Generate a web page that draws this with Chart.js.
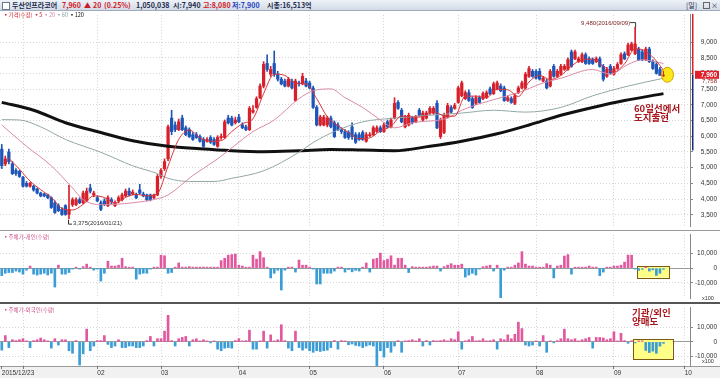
<!DOCTYPE html>
<html>
<head>
<meta charset="utf-8">
<script src="https://cdn.jsdelivr.net/npm/chart.js@4.4.1/dist/chart.umd.min.js"></script>
<style>
  body{margin:0;width:720px;height:378px;position:relative;overflow:hidden;background:#fff;font-family:"Noto Sans CJK KR","Liberation Sans",sans-serif}
  canvas{position:absolute;left:0}
  .t{position:absolute;white-space:nowrap}
  #hdr{position:absolute;left:0;top:0;width:720px;height:10px;background:linear-gradient(#eef2f8,#d3dbe7);border-bottom:1px solid #9fabbd;font-weight:bold;font-size:7px;line-height:10px;color:#1b2a4a}
  #hdr span{position:absolute;top:0}
  .red{color:#d01822}
  .blue{color:#1d3fc0}
  .note{color:#a8161c;font-weight:bold;font-size:9.5px;line-height:9px}
  .lg{font-size:5.5px;line-height:6px}
  .ax{font-size:6.5px;color:#333;font-family:"Liberation Sans",sans-serif}
</style>
</head>
<body>
<div id="hdr">
  <span style="left:2px;top:2px;width:6px;height:6px;border:1px solid #6a7890;background:#fff"></span>
  <span style="left:12px">두산인프라코어</span>
  <span class="red" style="left:62px">7,960</span>
  <span class="red" style="left:84px">▲</span>
  <span class="red" style="left:93px">20</span>
  <span class="red" style="left:104px">(0.25%)</span>
  <span style="left:136px">1,050,038</span>
  <span style="left:173px">시:7,940</span>
  <span class="red" style="left:203px">고:8,080</span>
  <span class="blue" style="left:232px">저:7,900</span>
  <span style="left:267px">시총:16,513억</span>
  <span style="left:686px;font-weight:normal">[일]</span>
  <span style="left:703px;top:2px;width:5px;height:5px;border:1px solid #666"></span>
  <span style="left:711px;font-weight:normal">×</span>
</div>

<canvas id="c1" width="720" height="219" style="top:11px"></canvas>
<div style="position:absolute;left:0;top:230px;width:720px;height:1px;background:#9a9a9a"></div>
<canvas id="c2" width="720" height="71" style="top:231px"></canvas>
<div style="position:absolute;left:0;top:302px;width:720px;height:2px;background:#555"></div>
<canvas id="c3" width="720" height="74" style="top:304px"></canvas>

<div class="t lg" style="left:3px;top:12px"><span style="color:#d01822">▪가격(수정)</span> <span style="color:#d01822">▪5</span> <span style="color:#d88aa8">▪20</span> <span style="color:#8fa4a4">▪60</span> <span style="color:#111">▪120</span></div>
<div class="t lg" style="left:3px;top:234px;color:#d0508a">▪주체가-개인(수량)</div>
<div class="t lg" style="left:3px;top:307px;color:#d0508a">▪주체가-외국인(수량)</div>
<div class="t note" style="left:634px;top:104px">60일선에서<br>도지출현</div>
<div class="t note" style="left:632px;top:308px">기관/외인<br>양매도</div>
<div class="t ax" style="left:702px;top:295px;font-size:5.5px">x100</div>
<div class="t ax" style="left:702px;top:358px;font-size:5.5px">x100</div>

<script>
// 일봉 (2015/12/23 ~ 2016/09)
const opens = [5590,5120,5500,5120,4910,4880,4690,4500,4410,4410,
 4320,4190,4160,4130,4040,3880,3790,3670,3790,3510,
 3820,3820,3980,3880,3940,4350,4130,4040,3880,3940,
 3790,3980,3790,3940,3980,4100,4250,4160,4130,4290,
 4160,4130,4130,4040,4130,4720,4970,5280,6580,6360,
 6210,6580,6270,6210,6050,6050,5990,5900,5840,5960,
 5900,5680,5960,5960,6580,6580,6430,6610,6360,6300,
 6210,6770,6920,7230,7600,8320,7980,8320,7980,7820,
 7760,7600,7760,7140,7700,7670,7760,7700,7540,6920,
 6360,6360,6360,6580,6430,6360,6210,6150,6120,6300,
 6050,6050,6120,5840,6020,6050,6150,6270,6150,6460,
 6300,6580,7080,6830,6300,6360,6580,6460,6830,6520,
 6580,6740,6740,7050,5990,6120,6610,6920,6890,7080,
 7290,7200,7390,7200,7050,7230,7200,7230,7510,7360,
 7510,7600,7540,7140,7200,7050,7390,7540,7540,7910,
 8070,8070,8070,7760,7760,7600,8230,7910,7980,8130,
 8130,8690,8470,8380,8380,8600,8470,8440,8380,8470,
 8230,7910,8230,7980,8160,8320,8630,8600,8750,8630,
 8780,8690,8440,8780,8380,8290,8130,7940];
const highs = [5740,5370,5590,5190,4970,4910,4720,4560,4530,4440,
 4350,4220,4190,4160,4070,3940,3850,3730,3820,4440,
 4040,4040,4040,4250,4350,4470,4250,4100,3940,4010,
 4100,4040,3940,4100,4190,4320,4350,4290,4190,4470,
 4220,4160,4160,4160,4780,4970,5280,6360,6830,6460,
 6550,6670,6330,6270,6120,6120,6050,5960,5960,6020,
 5960,6020,6080,6520,6670,6640,6610,6700,6430,6360,
 6950,6980,7260,7670,8380,8600,8230,8720,8070,7880,
 7820,7880,7820,7820,7760,8010,7850,7760,7600,6980,
 6670,6670,6640,6640,6490,6430,6270,6210,6180,6430,
 6120,6120,6180,6120,6120,6330,6330,6330,6430,6520,
 6580,7230,7140,6890,6670,6740,6640,6670,6890,6800,
 6800,6950,6950,7140,6580,6740,7050,6980,7050,7600,
 7760,7450,7480,7260,7290,7290,7420,7450,7570,7730,
 7760,7670,7600,7290,7260,7360,7600,7760,8040,8230,
 8130,8130,8160,7910,7820,8130,8290,8130,8290,8290,
 8500,8750,8750,8530,8660,8660,8530,8500,8530,8530,
 8290,8200,8290,8230,8350,8660,8690,8970,9000,9480,
 8840,8750,8840,8840,8440,8350,8200,8080];
const lows = [4970,5060,5120,4780,4750,4690,4380,4380,4380,4250,
 4160,4070,4070,4010,3700,3540,3600,3480,3480,3375,
 3760,3790,3850,3850,3910,4190,4070,3910,3630,3790,
 3760,3850,3760,3880,3940,4070,4100,4130,4010,4160,
 4070,3940,3940,4010,4100,4660,4910,5220,6050,6150,
 6180,6180,6020,5960,5870,5930,5810,5650,5810,5770,
 5710,5650,5900,5930,6390,6330,6390,6430,6240,6180,
 6180,6740,6890,7200,7540,8070,7910,7910,7760,7640,
 7570,7570,7510,7110,7600,7640,7570,7510,6890,6330,
 6330,6330,6300,6270,5960,6180,6080,5930,5900,5900,
 5770,5870,5870,5810,5990,6020,6120,6120,6120,6270,
 6270,6550,6860,6430,6270,6330,6390,6430,6640,6490,
 6550,6700,6700,6240,5930,6080,6580,6740,6860,7050,
 7260,7170,7110,6890,7010,7050,7170,7200,7330,7330,
 7480,7420,7110,7110,7050,7010,7360,7510,7510,7880,
 7880,7820,7790,7730,7510,7570,7880,7880,7950,8100,
 8100,8200,8440,8350,8350,8290,8290,8290,8350,8200,
 7760,7880,7980,7950,8130,8290,8440,8570,8720,8600,
 8410,8410,8410,8350,8130,7980,7950,7900];
const closes = [5060,5280,5190,4810,4810,4720,4410,4410,4500,4290,
 4190,4100,4100,4040,3730,3570,3630,3510,3510,3670,
 3980,3980,3880,4190,4250,4250,4190,3940,3670,3820,
 4040,3910,3880,4040,4130,4250,4130,4220,4040,4190,
 4100,3980,3980,4130,4720,4910,5190,6300,6150,6210,
 6460,6210,6050,5990,5900,5960,5840,5680,5900,5810,
 5740,5960,5990,6460,6430,6360,6520,6460,6270,6210,
 6890,6830,7200,7600,8290,8130,8130,7980,7820,7670,
 7600,7820,7540,7760,7670,7910,7600,7540,6920,6360,
 6610,6610,6580,6300,5990,6210,6150,5960,5960,5990,
 5810,5900,5900,6050,6050,6270,6270,6150,6360,6300,
 6520,7050,6890,6460,6610,6670,6430,6610,6670,6740,
 6740,6890,6890,6270,6520,6670,6980,6770,6980,7540,
 7700,7390,7140,6920,7230,7080,7360,7390,7360,7670,
 7700,7450,7140,7230,7080,7290,7540,7700,7980,8160,
 7910,7850,7820,7850,7540,8070,7910,8070,8230,8230,
 8440,8230,8690,8470,8600,8320,8320,8320,8470,8230,
 7820,8130,8010,8160,8290,8600,8470,8910,8940,8940,
 8440,8440,8780,8380,8160,8010,7940,7960];

// 이동평균 [봉 번호, 값]
const ma5 = [[2,5300],[5,4950],[8,4570],[11,4300],[14,4050],[17,3700],[20,3650],[23,3830],[26,4100],[29,4050],
 [32,3870],[35,4050],[38,4150],[41,4100],[44,4180],[47,5050],[50,5900],[53,6200],[56,5950],[59,5840],
 [62,5860],[65,6150],[68,6400],[71,6560],[74,7360],[77,7980],[80,7940],[83,7690],[86,7670],[89,7200],
 [92,6620],[95,6340],[98,6120],[101,5920],[104,5950],[107,6170],[110,6320],[113,6650],[116,6610],[119,6620],
 [122,6790],[125,6650],[128,6640],[131,7280],[134,7280],[137,7230],[140,7500],[143,7480],[146,7270],[149,7730],
 [152,7940],[155,7810],[158,7940],[161,8240],[164,8440],[167,8460],[170,8230],[173,8050],[176,8310],[179,8790],
 [182,8710],[185,8400],[187,8100]];
const ma20 = [[0,6360],[7,5680],[14,5060],[20,4350],[23,3980],[28,3820],[37,3880],[45,4040],[47,4130],[54,4750],
 [61,5280],[68,5900],[71,6150],[77,6520],[84,7200],[88,7450],[93,7510],[97,7230],[102,6920],[107,6520],
 [111,6270],[116,6430],[126,6580],[130,6830],[140,7200],[146,7390],[153,7700],[158,7850],[167,8130],[172,7980],
 [177,8290],[181,8440],[187,8320]];
const ma60 = [[0,6530],[5,6520],[11,6300],[18,5900],[28,5490],[37,5060],[44,4810],[47,4660],[53,4560],[60,4560],
 [65,4660],[74,4900],[84,5490],[88,5800],[94,6150],[102,6460],[111,6580],[121,6670],[130,6740],[139,6830],
 [148,6770],[158,6920],[167,7290],[177,7600],[187,7850]];
const ma120 = [[0,7080],[9,6830],[18,6430],[28,6120],[37,5860],[47,5680],[56,5600],[65,5540],[74,5510],[84,5540],
 [93,5580],[102,5560],[111,5540],[121,5680],[130,5840],[140,6080],[149,6360],[158,6670],[167,6920],[176,7140],
 [187,7360]];

// 주체별 순매수 (x100주)
const indivNet = [-5100,-3500,-3000,-3000,-2000,-2700,-4100,-1400,1400,-4100,
 -4700,-4100,-3500,-4700,-3500,-12900,2000,-4100,-4100,-3000,
 -500,600,-300,1000,2700,500,-1400,-300,-8800,-3500,
 4700,1400,1400,2000,6700,1000,600,300,-7500,-4100,
 -3500,-3500,-300,200,400,8800,8400,-3500,-3000,300,
 3500,500,300,1000,600,200,300,600,200,300,
 200,300,5100,6700,8800,9200,9600,2000,1400,300,
 200,8800,6100,11200,7100,400,-6700,-3500,-1400,-14900,
 -1400,500,600,-2700,5500,2000,2000,300,-300,-10800,
 -10800,-3500,-3500,-3500,-2000,300,500,-2700,-1000,-2500,
 -1500,-2000,300,3500,-2700,6100,6700,10200,5100,6100,
 8400,2000,6700,6700,2000,-3000,1000,500,300,400,
 300,1000,1400,1400,-2000,1000,2000,3000,2000,2000,
 2700,-6100,-4700,-3500,-4700,-600,1000,1400,2000,-2000,
 2000,-20400,-1400,300,200,2000,3500,11200,2700,1400,
 1400,300,200,300,3000,2000,-6700,1400,2000,8200,
 9200,-4100,400,300,300,200,1400,300,200,-5100,
 -2700,300,500,1400,1400,2000,4100,8800,8800,-500,
 -1500,-800,300,-2000,-1200,-5000,-3500,-800];
const foreignNet = [-5800,4400,-4000,1500,900,1500,2200,300,-4000,900,
 1500,2700,1500,300,-4400,2200,-2200,1500,1500,-6200,
 -8000,900,-16200,-8400,8900,-6200,-2900,900,900,4400,
 -1800,-4000,-2900,1500,-4000,-4000,-2900,-2900,-4000,-4000,
 -2900,900,3800,-2900,2200,2200,7500,18600,900,-2900,
 2200,3100,3800,-2900,1500,2200,300,1500,300,-300,
 300,-5100,-6200,-4400,-4000,-4400,900,2200,300,900,
 8200,-5100,-5100,300,7500,-4400,4900,300,1500,12000,
 900,-4400,-6200,7500,-4000,-5800,-4400,-6200,-7300,-6200,
 -6700,-6200,-5800,-4000,900,-5100,900,300,-2000,-1500,
 -2500,-2900,-4000,-2900,-2200,-2900,-17300,-6200,-10700,-4000,
 -7300,-2900,900,-7300,300,900,1500,300,2200,-2900,
 900,-2200,900,300,900,1500,300,2200,1500,7100,
 -5100,300,1500,3800,300,900,2200,300,900,1500,
 -5100,2200,1500,4900,2200,5300,13800,9300,-2200,-2900,
 -2200,300,-2900,4400,-7300,300,-300,900,2200,8900,
 2200,1500,2200,300,1500,2200,3100,-4400,3100,3100,
 2700,1500,2200,7100,300,6000,900,-1000,800,-500,
 600,300,-6000,-7500,-6500,-8000,-3000,-1000];

// 눈금
const priceTicks = [3500,4000,4500,5000,5500,6000,6500,7000,7500,8000,8500,9000];
const netTicks = [-10000,0,10000];
const monthIdx = [0,6,27,45,67,87,108,129,151,173,193];
const monthText = ['2015/12/23','','02','03','04','05','06','07','08','09','10'];

const UP = '#d8202a', DN = '#1d55b8', PINK = '#e2579e', SKY = '#3a9dd6';
const NUM = '"Liberation Sans", sans-serif';
const fmt = v => v.toLocaleString('en-US');

function xAxis(withLabels) {
  return {
    type: 'linear', min: -0.5, max: 194.5, offset: false, bounds: 'ticks',
    afterBuildTicks: s => { s.ticks = monthIdx.map(v => ({value: v})); },
    afterFit: s => { s.height = withLabels ? 12 : 0; s.paddingLeft = 0; s.paddingRight = 0; },
    grid: {offset: false, color: c => (c.tick && c.tick.value === 0) ? 'rgba(0,0,0,0)' : '#d2d2d2', drawTicks: withLabels, tickLength: 3, tickColor: '#777'},
    border: {display: false, dash: [1, 2]},
    ticks: {display: withLabels, autoSkip: false, maxRotation: 0, align: 'start', padding: 0,
      font: {size: 6.5, family: NUM}, color: '#333', callback: (v, i) => monthText[i]}
  };
}
function yAxis(min, max, ticks, dashFn) {
  return {
    position: 'right', min, max,
    afterBuildTicks: s => { s.ticks = ticks.map(v => ({value: v})); },
    afterFit: s => { s.width = 27; },
    grid: {color: c => (c.tick && c.tick.value === 0 && ticks === netTicks) ? '#9a9a9a' : '#d6d6d6', tickLength: 3, tickColor: '#888'},
    border: {display: true, color: '#888', dash: dashFn},
    ticks: {font: {size: 6.5, family: NUM}, color: '#333', crossAlign: 'far', padding: 0, callback: v => fmt(v)}
  };
}
const base = {
  responsive: false, animation: false, devicePixelRatio: 1,
  plugins: {legend: {display: false}, tooltip: {enabled: false}}
};
const idx = closes.map((c, i) => i);
const bodyColors = closes.map((c, i) => c >= opens[i] ? UP : DN);
const maLine = (pts, color, w) => ({
  type: 'line', data: pts.map(p => ({x: p[0], y: p[1]})), borderColor: color, borderWidth: w,
  pointRadius: 0, tension: 0.4, cubicInterpolationMode: 'monotone', order: 0
});

const lastClose = closes[closes.length - 1];
const priceNotes = {
  id: 'priceNotes',
  afterDatasetsDraw(chart) {
    const {ctx, scales: {x, y}} = chart;
    ctx.save();
    const yc = y.getPixelForValue(lastClose);
    ctx.fillStyle = '#d8202a';
    ctx.fillRect(692, y.top - 1, 1.5, yc - y.top + 1);
    ctx.fillStyle = '#1a2b7a';
    ctx.fillRect(692, yc, 1.5, y.getPixelForValue(5550) - yc);
    ctx.fillStyle = '#e0202a';
    ctx.fillRect(695, yc - 4, 24, 8);
    ctx.font = 'bold 6.5px ' + NUM;
    ctx.textAlign = 'right'; ctx.textBaseline = 'middle';
    ctx.fillStyle = '#fff';
    ctx.fillText(fmt(lastClose), 717, yc + 0.5);
    ctx.fillStyle = '#8a1a1a';
    ctx.font = '6px ' + NUM;
    ctx.fillText('7,758', 717, y.getPixelForValue(7758));

    // 고가 표시
    const hi = highs.indexOf(Math.max(...highs));
    const hx = x.getPixelForValue(hi), hy = y.getPixelForValue(highs[hi]);
    ctx.strokeStyle = '#333'; ctx.lineWidth = 1;
    ctx.beginPath(); ctx.moveTo(hx - 5, hy - 4.5); ctx.lineTo(hx + 0.5, hy - 4.5); ctx.lineTo(hx + 0.5, hy); ctx.stroke();
    ctx.fillStyle = '#7a1c1c'; ctx.font = '6px ' + NUM; ctx.textAlign = 'right';
    ctx.fillText('9,480(2016/09/09)', hx - 5, hy - 4);
    // 저가 표시
    const lo = lows.indexOf(Math.min(...lows));
    const lx = x.getPixelForValue(lo), ly = y.getPixelForValue(lows[lo]);
    ctx.beginPath(); ctx.moveTo(lx - 0.5, ly + 1); ctx.lineTo(lx - 0.5, ly + 5.5); ctx.lineTo(lx + 3, ly + 5.5); ctx.stroke();
    ctx.fillStyle = '#333'; ctx.textAlign = 'left';
    ctx.fillText('3,375(2016/01/21)', lx + 4, ly + 5);
    // 도지 표시
    const ex = x.getPixelForValue(closes.length - 1);
    ctx.beginPath(); ctx.ellipse(ex + 4, yc, 6, 7.5, 0, 0, Math.PI * 2);
    ctx.fillStyle = 'rgba(255,230,0,0.9)'; ctx.fill();
    ctx.strokeStyle = '#d0a000'; ctx.stroke();
    ctx.fillStyle = UP;
    ctx.fillRect(ex - 1.2, y.getPixelForValue(closes[closes.length - 1]), 2.5, 1.5);
    ctx.fillRect(ex - 0.5, y.getPixelForValue(highs[highs.length - 1]), 1, y.getPixelForValue(lows[lows.length - 1]) - y.getPixelForValue(highs[highs.length - 1]));
    ctx.restore();
  }
};

new Chart(document.getElementById('c1'), {
  type: 'bar',
  data: {datasets: [
    maLine(ma5, '#d8343a', 1),
    maLine(ma20, '#d98aa6', 1),
    maLine(ma60, '#93a7a7', 1),
    maLine(ma120, '#111', 3),
    {data: idx.map(i => ({x: i, y: [lows[i], highs[i]]})), backgroundColor: bodyColors, barThickness: 1, grouped: false, order: 2},
    {data: idx.map(i => ({x: i, y: [opens[i], closes[i]]})), backgroundColor: bodyColors, barThickness: 2.6, minBarLength: 1, grouped: false, order: 1}
  ]},
  options: {...base, layout: {padding: {top: 1, bottom: 1, right: 3, left: 0}},
    scales: {x: xAxis(false), y: yAxis(3137, 9869, priceTicks, [1, 2])}},
  plugins: [priceNotes]
});

function boxPlugin(from, to, top, bottom) {
  return {
    id: 'box',
    beforeDatasetsDraw(chart) {
      const {ctx, scales: {x, y}} = chart;
      const x0 = x.getPixelForValue(from), x1 = x.getPixelForValue(to);
      const y0 = y.getPixelForValue(top), y1 = y.getPixelForValue(bottom);
      ctx.save();
      ctx.fillStyle = '#ffff88'; ctx.fillRect(x0, y0, x1 - x0, y1 - y0);
      ctx.strokeStyle = '#7a5a10'; ctx.lineWidth = 1; ctx.strokeRect(Math.round(x0) + 0.5, Math.round(y0) + 0.5, Math.round(x1 - x0), Math.round(y1 - y0));
      ctx.restore();
    }
  };
}
const dateRow = {
  id: 'dateRow',
  beforeDraw(chart) {
    const {ctx, chartArea: a} = chart;
    ctx.save();
    ctx.fillStyle = '#f1f1f1'; ctx.fillRect(0, a.bottom, chart.width, chart.height - a.bottom);
    ctx.fillStyle = '#9a9a9a'; ctx.fillRect(0, a.bottom, chart.width, 1);
    ctx.restore();
  }
};
function netChart(id, vals, min, max, box, withDates) {
  new Chart(document.getElementById(id), {
    type: 'bar',
    data: {datasets: [{data: vals.map((v, i) => ({x: i, y: v})), backgroundColor: vals.map(v => v >= 0 ? PINK : SKY), barThickness: 2, minBarLength: 1}]},
    options: {...base, layout: {padding: {right: 3, left: 0}},
      scales: {x: xAxis(withDates), y: yAxis(min, max, netTicks, c => (c.tick && c.tick.value === 0) ? [] : [1, 2])}},
    plugins: withDates ? [box, dateRow] : [box]
  });
}
netChart('c2', indivNet, -20400, 22600, boxPlugin(179.6, 188.6, 1400, -6500), false);
netChart('c3', foreignNet, -16900, 23800, boxPlugin(178.3, 189.6, 1800, -12200), true);
</script>
</body>
</html>
